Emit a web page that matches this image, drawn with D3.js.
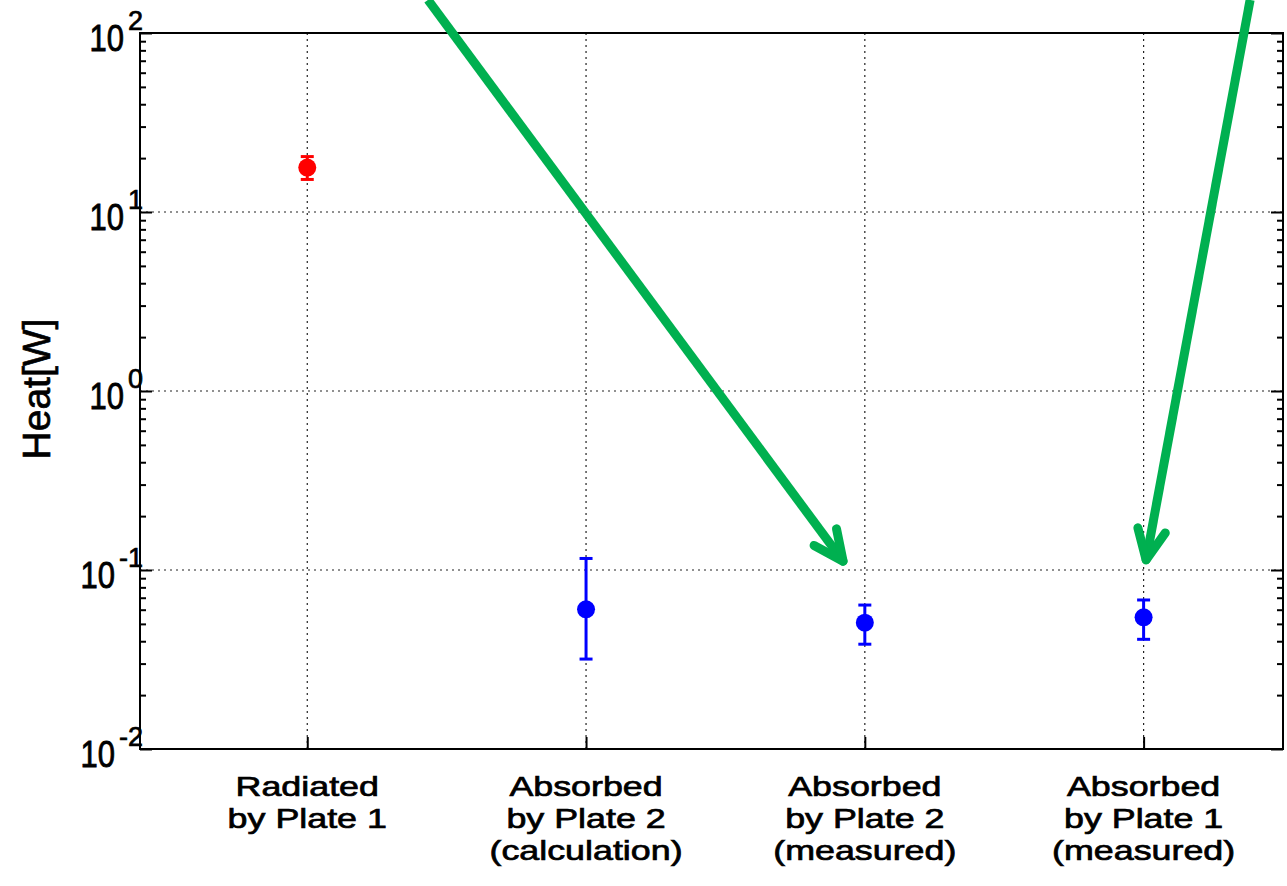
<!DOCTYPE html>
<html>
<head>
<meta charset="utf-8">
<script src="https://d3js.org/d3.v7.min.js"></script>
<style>
  body { margin: 0; background: #fff; }
  #canvas { width: 1287px; height: 886px; }
  text { font-family: "Liberation Sans", Arial, sans-serif; fill: #000; stroke: #000; stroke-width: 0.7px; }
</style>
</head>
<body>
<div id="canvas" class="canvas"></div>
<script>
// heat radiated / absorbed, log scale

// categories (one label line per entry)
var categories = [
    ['Radiated', 'by Plate 1'],
    ['Absorbed', 'by Plate 2', '(calculation)'],
    ['Absorbed', 'by Plate 2', '(measured)'],
    ['Absorbed', 'by Plate 1', '(measured)']
];
var catPos = [1, 2, 3, 4];
var heat = [17.7, 0.0603, 0.0508, 0.0544];
var heatLow = [15.2, 0.0318, 0.0385, 0.041];
var heatHigh = [20.4, 0.116, 0.0637, 0.068];
var pointColor = ['#ff0000', '#0000ff', '#0000ff', '#0000ff'];

// decades on the y axis
var yTicks = [0.01, 0.1, 1, 10, 100];
var yExps = ['-2', '-1', '0', '1', '2'];

// green arrows, from [x, y] to [x, y] in data units
var arrowFrom = [[1.433, 153], [4.382, 153]];
var arrowTo = [[2.922, 0.112], [4.009, 0.114]];

var m = {t:33, r:4, b:137, l:140},
    W = 1287, H = 886,
    w = W - m.l - m.r,
    h = H - m.t - m.b;

var svg = d3.select('.canvas')
    .append('svg')
    .attr('width', W)
    .attr('height', H);

var plot = svg.append('g').attr('class','plot')
    .attr('transform','translate('+ m.l+','+ m.t+')');

var x = d3.scaleLinear().domain([0.4, 4.5]).range([0, w]);
var y = d3.scaleLog().domain([0.01, 100]).range([h, 0]);

// grid (dotted)
plot.selectAll('.hgrid')
    .data(yTicks.slice(1, -1))
    .enter().append('line').attr('class','hgrid')
    .attr('x1', 0).attr('x2', w)
    .attr('y1', function(d){ return y(d); })
    .attr('y2', function(d){ return y(d); })
    .style('stroke','#222').style('stroke-width',1.2)
    .style('stroke-dasharray','2,4');

plot.selectAll('.vgrid')
    .data(catPos)
    .enter().append('line').attr('class','vgrid')
    .attr('y1', 0).attr('y2', h)
    .attr('x1', function(d){ return x(d); })
    .attr('x2', function(d){ return x(d); })
    .style('stroke','#222').style('stroke-width',1.2)
    .style('stroke-dasharray','2,4');

// ticks - major and minor, inward, mirrored on the right
var minor = [];
for (var e = -2; e < 2; e++) {
    for (var k = 2; k <= 9; k++) minor.push(k * Math.pow(10, e));
}

var axisL = d3.axisRight(y).tickValues(yTicks).tickSize(12).tickFormat('');
var axisLm = d3.axisRight(y).tickValues(minor).tickSize(6).tickFormat('');
var axisR = d3.axisLeft(y).tickValues(yTicks).tickSize(12).tickFormat('');
var axisRm = d3.axisLeft(y).tickValues(minor).tickSize(6).tickFormat('');
var axisB = d3.axisTop(x).tickValues(catPos).tickSize(12).tickFormat('');

plot.append('g').call(axisL);
plot.append('g').call(axisLm);
plot.append('g').attr('transform','translate('+w+',0)').call(axisR);
plot.append('g').attr('transform','translate('+w+',0)').call(axisRm);
plot.append('g').attr('transform','translate(0,'+h+')').call(axisB);
plot.selectAll('.domain').remove();
plot.selectAll('.tick line').style('stroke','#000').style('stroke-width',2);

// frame
plot.append('rect')
    .attr('width', w).attr('height', h)
    .style('fill','none').style('stroke','#000').style('stroke-width',2);

// y tick labels: "10" + superscript exponent
yTicks.forEach(function(d, i){
    var g = svg.append('g');
    var ex = g.append('text')
        .attr('x', 143).attr('y', m.t + y(d) - 3)
        .attr('text-anchor','end')
        .style('font-size','27px')
        .text(yExps[i]);
    var ew = ex.node().getComputedTextLength();
    g.append('text')
        .attr('text-anchor','end')
        .attr('transform','translate('+(143 - ew - 4)+','+(m.t + y(d) + 18)+') scale(1,1.2)')
        .style('font-size','31px')
        .text('10');
});

// y label
svg.append('text')
    .attr('transform','translate(50,389) rotate(-90)')
    .attr('text-anchor','middle')
    .style('font-size','39px')
    .text('Heat[W]');

// category labels
categories.forEach(function(lines, i){
    lines.forEach(function(t, j){
        svg.append('text')
            .attr('text-anchor','middle')
            .attr('transform','translate('+(m.l + x(catPos[i]))+','+(796 + j*32)+') scale(1.28,1)')
            .style('font-size','28px')
            .text(t);
    });
});

// error bars + points
var pts = plot.selectAll('.pt')
    .data(heat)
    .enter().append('g').attr('class','pt');

pts.append('line')
    .attr('x1', function(d,i){ return x(catPos[i]); })
    .attr('x2', function(d,i){ return x(catPos[i]); })
    .attr('y1', function(d,i){ return y(heatLow[i]); })
    .attr('y2', function(d,i){ return y(heatHigh[i]); })
    .style('stroke', function(d,i){ return pointColor[i]; })
    .style('stroke-width', 3);

[heatLow, heatHigh].forEach(function(arr){
    pts.append('line')
        .attr('x1', function(d,i){ return x(catPos[i]) - 6.5; })
        .attr('x2', function(d,i){ return x(catPos[i]) + 6.5; })
        .attr('y1', function(d,i){ return y(arr[i]); })
        .attr('y2', function(d,i){ return y(arr[i]); })
        .style('stroke', function(d,i){ return pointColor[i]; })
        .style('stroke-width', 3);
});

pts.append('circle')
    .attr('cx', function(d,i){ return x(catPos[i]); })
    .attr('cy', function(d){ return y(d); })
    .attr('r', 9)
    .style('fill', function(d,i){ return pointColor[i]; });

// arrows (drawn on top, they run off the top of the plot)
var green = '#00b050';
arrowFrom.forEach(function(a, i){
    var x0 = x(a[0]), y0 = y(a[1]),
        x1 = x(arrowTo[i][0]), y1 = y(arrowTo[i][1]);
    var ang = Math.atan2(y0 - y1, x0 - x1),
        len = 33, spread = 25 * Math.PI / 180;
    var g = plot.append('g')
        .style('stroke', green).style('stroke-width', 9)
        .style('stroke-linecap','round').style('fill','none');
    g.append('line').attr('x1', x0).attr('y1', y0).attr('x2', x1).attr('y2', y1)
        .style('stroke-linecap','butt');
    [-spread, spread].forEach(function(s){
        g.append('line')
            .attr('x1', x1).attr('y1', y1)
            .attr('x2', x1 + len * Math.cos(ang + s))
            .attr('y2', y1 + len * Math.sin(ang + s));
    });
});
</script>
</body>
</html>
